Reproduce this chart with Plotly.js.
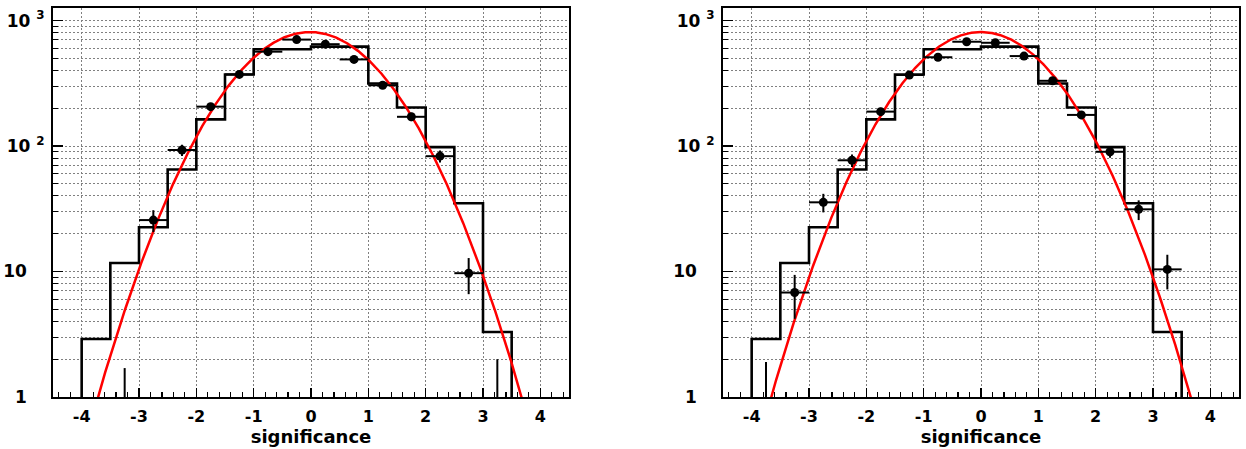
<!DOCTYPE html>
<html>
<head>
<meta charset="utf-8">
<script src="https://cdn.plot.ly/plotly-3.0.1.min.js"></script>
<style>html,body{margin:0;padding:0;background:#fff;}#chart{width:1246px;height:449px;}</style>
</head>
<body>
<div id="chart"></div>
<script>
// ---- data ----
// histogram (reference distribution), bins of width 0.5, left edges
const binLeftEdges = [-4, -3.5, -3, -2.5, -2, -1.5, -1, -0.5, 0, 0.5, 1, 1.5, 2, 2.5, 3];
const binWidth = 0.5;
const histLeft  = [2.9, 11.7, 22.5, 65, 163, 372, 590, 590, 620, 620, 315, 203, 98, 35, 3.3];
const histRight = [2.9, 11.7, 22.5, 65, 163, 372, 590, 590, 620, 620, 315, 203, 98, 35, 3.3];

// data points, left panel
const ptsLeftX      = [-3.25, -2.75, -2.25, -1.75, -1.25, -0.75, -0.25, 0.25, 0.75, 1.25, 1.75, 2.25, 2.75, 3.25];
const ptsLeftY      = [0.8, 25.7, 93, 206, 372, 565, 705, 648, 490, 305, 171, 83, 9.7, 0.8];
const ptsLeftErrUp  = [0.9, 5.1, 9.6, 14.4, 19.3, 23.8, 26.6, 25.5, 22.1, 17.5, 13.1, 9.1, 3.1, 1.2];
const ptsLeftErrDn  = [0.5, 5.1, 9.6, 14.4, 19.3, 23.8, 26.6, 25.5, 22.1, 17.5, 13.1, 9.1, 3.1, 0.5];

// data points, right panel
const ptsRightX     = [-3.75, -3.25, -2.75, -2.25, -1.75, -1.25, -0.75, -0.25, 0.25, 0.75, 1.25, 1.75, 2.25, 2.75, 3.25];
const ptsRightY     = [0.8, 6.8, 35.6, 77, 188, 368, 510, 678, 665, 521, 331, 177, 90, 31.3, 10.4];
const ptsRightErrUp = [1.1, 2.6, 6.0, 8.8, 13.7, 19.2, 22.6, 26.0, 25.8, 22.8, 18.2, 13.3, 9.5, 5.6, 3.2];
const ptsRightErrDn = [0.5, 2.6, 6.0, 8.8, 13.7, 19.2, 22.6, 26.0, 25.8, 22.8, 18.2, 13.3, 9.5, 5.6, 3.2];

// gaussian fit parameters (red curves)
const fitLeft  = {amp: 810, mean: -0.02, sigma: 1.01};
const fitRight = {amp: 810, mean: 0.0,  sigma: 1.0};

// ticks
const xTickVals = [-4, -3, -2, -1, 0, 1, 2, 3, 4];
const xTickText = ['-4', '-3', '-2', '-1', '0', '1', '2', '3', '4'];
const yTickVals = [1, 10, 100, 1000];
const yTickText = ['1\u00A0\u00A0\u00A0', '10\u00A0\u00A0\u00A0', '10\u00A0<sup>2</sup>', '10\u00A0<sup>3</sup>'];
const yMinorVals = [2,3,4,5,6,7,8,9,20,30,40,50,60,70,80,90,200,300,400,500,600,700,800,900];
const xTitle = 'significance';

// ---- build traces ----
function stepTrace(values, xa, ya) {
  const xs = [binLeftEdges[0]], ys = [1];
  for (let i = 0; i < values.length; i++) { xs.push(binLeftEdges[i]); ys.push(values[i]); }
  const last = binLeftEdges[binLeftEdges.length - 1] + binWidth;
  xs.push(last); ys.push(values[values.length - 1]);
  xs.push(last); ys.push(1);
  return {x: xs, y: ys, xaxis: xa, yaxis: ya, type: 'scatter', mode: 'lines',
          line: {shape: 'hv', color: '#000', width: 2.6}, hoverinfo: 'skip', showlegend: false};
}
function pointsTrace(xs, ys, up, dn, xa, ya) {
  return {x: xs, y: ys, xaxis: xa, yaxis: ya, type: 'scatter', mode: 'markers',
          marker: {symbol: 'circle', size: 9, color: '#000'},
          error_x: {type: 'constant', value: binWidth / 2, thickness: 2, width: 0, color: '#000'},
          error_y: {type: 'data', array: up, arrayminus: dn, symmetric: false, thickness: 2, width: 0, color: '#000'},
          showlegend: false};
}
function fitTrace(p, xa, ya) {
  const xs = [], ys = [];
  for (let i = 0; i <= 900; i++) {
    const x = -4.5 + i * 0.01;
    xs.push(x);
    ys.push(p.amp * Math.exp(-0.5 * Math.pow((x - p.mean) / p.sigma, 2)));
  }
  return {x: xs, y: ys, xaxis: xa, yaxis: ya, type: 'scatter', mode: 'lines',
          line: {color: '#ff0000', width: 2.5}, hoverinfo: 'skip', showlegend: false};
}

const data = [
  stepTrace(histLeft, 'x', 'y'),
  fitTrace(fitLeft, 'x', 'y'),
  pointsTrace(ptsLeftX, ptsLeftY, ptsLeftErrUp, ptsLeftErrDn, 'x', 'y'),
  stepTrace(histRight, 'x2', 'y2'),
  fitTrace(fitRight, 'x2', 'y2'),
  pointsTrace(ptsRightX, ptsRightY, ptsRightErrUp, ptsRightErrDn, 'x2', 'y2')
];

const FONT = 'DejaVu Sans, Liberation Sans, Arial, sans-serif';
const gridColor = '#808080';
const gridDash = '2px,2px';

function xAxis(domain, anchor) {
  return {
    domain: domain, anchor: anchor, range: [-4.5, 4.5], type: 'linear',
    tickmode: 'array', tickvals: xTickVals, ticktext: xTickText,
    ticks: 'inside', ticklen: 9, tickwidth: 1.2, tickcolor: '#000',
    minor: {dtick: 0.2, tick0: 0, ticks: 'inside', ticklen: 5, tickwidth: 1.2, tickcolor: '#000', showgrid: false},
    showgrid: true, gridcolor: gridColor, gridwidth: 1, griddash: gridDash,
    showline: true, mirror: true, linecolor: '#000', linewidth: 2,
    zeroline: false,
    tickfont: {family: FONT, size: 16, color: '#000', weight: 'bold'},
    ticklabelstandoff: 4,
    title: {text: xTitle, font: {family: FONT, size: 18, color: '#000', weight: 'bold'}, standoff: 0}
  };
}
function yAxis(anchor) {
  return {
    domain: [0, 1], anchor: anchor, type: 'log', range: [0, 3.1],
    tickmode: 'array', tickvals: yTickVals, ticktext: yTickText,
    ticks: 'inside', ticklen: 10, tickwidth: 1.2, tickcolor: '#000',
    minor: {tickmode: 'array', tickvals: yMinorVals, ticks: 'inside', ticklen: 5, tickwidth: 1, tickcolor: '#000',
            showgrid: true, gridcolor: gridColor, gridwidth: 1, griddash: gridDash},
    showgrid: true, gridcolor: gridColor, gridwidth: 1, griddash: gridDash,
    showline: true, mirror: true, linecolor: '#000', linewidth: 2,
    zeroline: false,
    tickfont: {family: FONT, size: 17, color: '#000', weight: 'bold'},
    ticklabelstandoff: 3
  };
}

const layout = {
  width: 1246, height: 449,
  margin: {l: 0, r: 0, t: 8, b: 52, pad: 0},
  paper_bgcolor: '#fff', plot_bgcolor: '#fff',
  showlegend: false,
  xaxis: xAxis([53 / 1246, 569 / 1246], 'y'),
  yaxis: yAxis('x'),
  xaxis2: xAxis([723 / 1246, 1239 / 1246], 'y2'),
  yaxis2: yAxis('x2')
};

Plotly.newPlot('chart', data, layout, {staticPlot: true, displayModeBar: false});
</script>
</body>
</html>
